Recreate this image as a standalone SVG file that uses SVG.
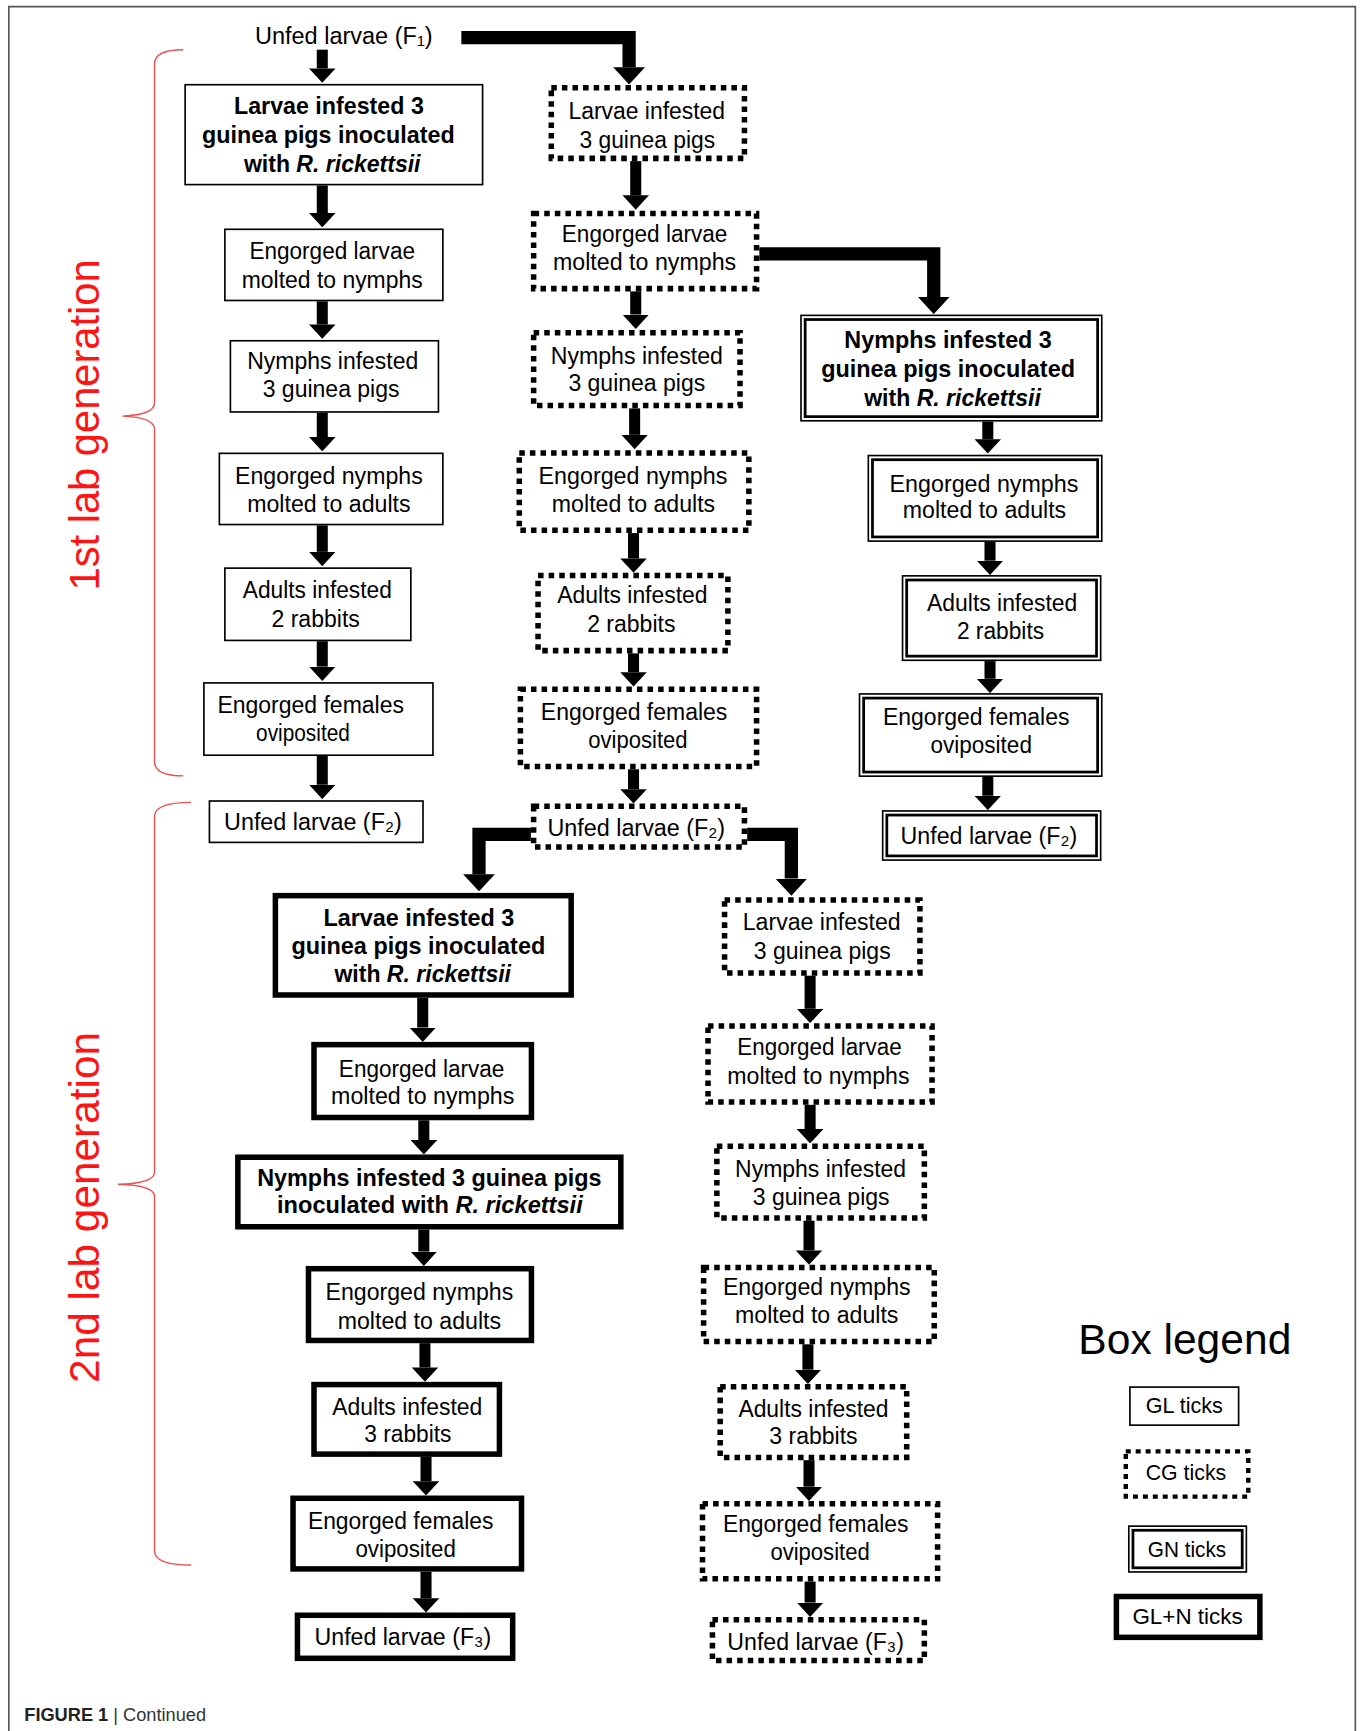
<svg xmlns="http://www.w3.org/2000/svg" width="1362" height="1731" viewBox="0 0 1362 1731">
<style>
.gl{fill:#fff;stroke:#000;stroke-width:1.5}
.cg{fill:#fff;stroke:#000;stroke-width:5;stroke-dasharray:5 4.6}
.gno{fill:#fff;stroke:#000;stroke-width:1.5}
.gni{fill:none;stroke:#000;stroke-width:2.5}
.gln{fill:#fff;stroke:#000;stroke-width:5}
.t{font-family:"Liberation Sans",Arial,sans-serif;font-size:22.5px;text-anchor:middle;dominant-baseline:central;fill:#000}
.b{font-weight:bold;font-size:22px}
.i{font-style:italic}
.conn{stroke:#000;stroke-width:10;fill:none;marker-end:url(#ah)}
.elb{stroke-width:12;stroke-linejoin:miter}
.brace{fill:none;stroke:#f05050;stroke-width:1.3}
.gen{font-family:"Liberation Sans",Arial,sans-serif;font-size:38px;fill:#ff1414;text-anchor:middle;dominant-baseline:central}
.leg{font-family:"Liberation Sans",Arial,sans-serif;font-size:20px;text-anchor:middle;dominant-baseline:central;fill:#000}
.frame{fill:none;stroke:#555;stroke-width:1.5}
.cap{font-family:"Liberation Sans",Arial,sans-serif;font-size:16.5px;fill:#333}
</style>
<defs>
<marker id="ah" markerUnits="strokeWidth" viewBox="0 -1.2 1.3 2.4" markerWidth="1.3" markerHeight="2.4" refX="0" refY="0" orient="auto">
<path d="M0,-1.2 L1.3,0 L0,1.2 Z" fill="#000"/>
</marker>
</defs>
<rect x="0" y="0" width="1362" height="1731" fill="#fff"/>
<g transform="scale(1.1037)">
<path class="frame" d="M8,1580 V6 H1228 V1580"/>

<g id="braces">
<path class="brace" d="M166,45 Q140,45 140,58 V365 Q140,376 111,377 Q140,378 140,389 V690 Q140,703 166,703"/>
<path class="brace" d="M173,727 Q140,727 140,740 V1062 Q140,1072 107,1073 Q140,1074 140,1084 V1405 Q140,1418 173,1418"/>
<text class="gen" transform="translate(77,385) rotate(-90)" textLength="300" lengthAdjust="spacingAndGlyphs">1st lab generation</text>
<text class="gen" transform="translate(77,1094) rotate(-90)" textLength="318" lengthAdjust="spacingAndGlyphs">2nd lab generation</text>
</g>

<g id="connectors">
<path class="conn elb" d="M418,34 H570 V61"/>
<path class="conn elb" d="M688,230 H846 V269"/>
<path class="conn elb" d="M481,756 H434 V792"/>
<path class="conn elb" d="M677,756 H717 V796"/>
<path class="conn" d="M292,45 V62"/>
<path class="conn" d="M292,168 V193"/>
<path class="conn" d="M292,273 V294"/>
<path class="conn" d="M292,374 V396"/>
<path class="conn" d="M292,476 V500"/>
<path class="conn" d="M292,581 V604"/>
<path class="conn" d="M292,685 V711"/>
<path class="conn" d="M576,146 V177"/>
<path class="conn" d="M576,264 V285"/>
<path class="conn" d="M575,370 V394"/>
<path class="conn" d="M574,483 V506"/>
<path class="conn" d="M574,592 V609"/>
<path class="conn" d="M574,697 V715"/>
<path class="conn" d="M895,382 V398"/>
<path class="conn" d="M897,491 V508"/>
<path class="conn" d="M897,599 V615"/>
<path class="conn" d="M895,704 V721"/>
<path class="conn" d="M383,904 V931"/>
<path class="conn" d="M384,1015 V1033"/>
<path class="conn" d="M384,1114 V1134"/>
<path class="conn" d="M385,1217 V1239"/>
<path class="conn" d="M386,1320 V1342"/>
<path class="conn" d="M386,1424 V1448"/>
<path class="conn" d="M734,884 V914"/>
<path class="conn" d="M734,1001 V1023"/>
<path class="conn" d="M733,1106 V1133"/>
<path class="conn" d="M732,1218 V1241"/>
<path class="conn" d="M733,1323 V1347"/>
<path class="conn" d="M734,1433 V1452"/>
</g>

<g id="f1-top">
<text class="t" x="311.5" y="32" textLength="161" lengthAdjust="spacingAndGlyphs">Unfed  larvae  (F₁)</text>
</g>

<g id="gl-larvae-infested">
<rect class="gl" x="167.75" y="76.75" width="269.5" height="90.5"/>
<text class="t b" x="298" y="96" textLength="172" lengthAdjust="spacingAndGlyphs">Larvae infested 3</text>
<text class="t b" x="297.5" y="122" textLength="229" lengthAdjust="spacingAndGlyphs">guinea pigs inoculated</text>
<text class="t b" x="301" y="148" textLength="160" lengthAdjust="spacingAndGlyphs">with <tspan class="i">R. rickettsii</tspan></text>
</g>
<g id="gl-engorged-larvae">
<rect class="gl" x="203.75" y="207.75" width="197.5" height="64.5"/>
<text class="t" x="301" y="227" textLength="150" lengthAdjust="spacingAndGlyphs">Engorged larvae</text>
<text class="t" x="301" y="253" textLength="164" lengthAdjust="spacingAndGlyphs">molted to nymphs</text>
</g>
<g id="gl-nymphs-infested">
<rect class="gl" x="208.75" y="308.75" width="188.5" height="64.5"/>
<text class="t" x="301.5" y="327" textLength="155" lengthAdjust="spacingAndGlyphs">Nymphs infested</text>
<text class="t" x="300" y="352" textLength="124" lengthAdjust="spacingAndGlyphs">3 guinea pigs</text>
</g>
<g id="gl-engorged-nymphs">
<rect class="gl" x="198.75" y="410.75" width="202.5" height="64.5"/>
<text class="t" x="298" y="431" textLength="170" lengthAdjust="spacingAndGlyphs">Engorged nymphs</text>
<text class="t" x="298" y="456" textLength="148" lengthAdjust="spacingAndGlyphs">molted to adults</text>
</g>
<g id="gl-adults-infested">
<rect class="gl" x="203.75" y="514.75" width="168.5" height="65.5"/>
<text class="t" x="287.5" y="534" textLength="135" lengthAdjust="spacingAndGlyphs">Adults infested</text>
<text class="t" x="286" y="560" textLength="80" lengthAdjust="spacingAndGlyphs">2 rabbits</text>
</g>
<g id="gl-engorged-females">
<rect class="gl" x="184.75" y="618.75" width="207.5" height="65.5"/>
<text class="t" x="281.5" y="638" textLength="169" lengthAdjust="spacingAndGlyphs">Engorged females</text>
<text class="t" x="274.5" y="664" textLength="85" lengthAdjust="spacingAndGlyphs">oviposited</text>
</g>
<g id="gl-unfed-f2">
<rect class="gl" x="189.75" y="725.75" width="193.5" height="37.5"/>
<text class="t" x="283.5" y="744" textLength="161" lengthAdjust="spacingAndGlyphs">Unfed  larvae  (F₂)</text>
</g>

<g id="cg-larvae-infested">
<rect class="cg" x="499.5" y="79.5" width="175" height="64"/>
<text class="t" x="586" y="100" textLength="142" lengthAdjust="spacingAndGlyphs">Larvae  infested</text>
<text class="t" x="586.5" y="126" textLength="123" lengthAdjust="spacingAndGlyphs">3 guinea pigs</text>
</g>
<g id="cg-engorged-larvae">
<rect class="cg" x="483.5" y="193.5" width="202" height="68"/>
<text class="t" x="584" y="212" textLength="150" lengthAdjust="spacingAndGlyphs">Engorged larvae</text>
<text class="t" x="584" y="237" textLength="166" lengthAdjust="spacingAndGlyphs">molted to nymphs</text>
</g>
<g id="cg-nymphs-infested">
<rect class="cg" x="483.5" y="301.5" width="187" height="66"/>
<text class="t" x="577" y="322" textLength="156" lengthAdjust="spacingAndGlyphs">Nymphs infested</text>
<text class="t" x="577" y="347" textLength="124" lengthAdjust="spacingAndGlyphs">3 guinea pigs</text>
</g>
<g id="cg-engorged-nymphs">
<rect class="cg" x="470.5" y="410.5" width="208" height="70"/>
<text class="t" x="573.5" y="431" textLength="171" lengthAdjust="spacingAndGlyphs">Engorged nymphs</text>
<text class="t" x="574" y="456" textLength="148" lengthAdjust="spacingAndGlyphs">molted to adults</text>
</g>
<g id="cg-adults-infested">
<rect class="cg" x="487.5" y="521.5" width="172" height="68"/>
<text class="t" x="573" y="539" textLength="136" lengthAdjust="spacingAndGlyphs">Adults infested</text>
<text class="t" x="572" y="565" textLength="80" lengthAdjust="spacingAndGlyphs">2 rabbits</text>
</g>
<g id="cg-engorged-females">
<rect class="cg" x="471.5" y="624.5" width="214" height="70"/>
<text class="t" x="574.5" y="645" textLength="169" lengthAdjust="spacingAndGlyphs">Engorged females</text>
<text class="t" x="578" y="670" textLength="90" lengthAdjust="spacingAndGlyphs">oviposited</text>
</g>
<g id="cg-unfed-f2">
<rect class="cg" x="483.5" y="730.5" width="191" height="37"/>
<text class="t" x="576.5" y="750" textLength="161" lengthAdjust="spacingAndGlyphs">Unfed  larvae  (F₂)</text>
</g>

<g id="gn-nymphs-infested">
<rect class="gno" x="725.75" y="285.75" width="272.5" height="95.5"/>
<rect class="gni" x="729.5" y="289.5" width="265" height="88"/>
<text class="t b" x="859" y="308" textLength="188" lengthAdjust="spacingAndGlyphs">Nymphs  infested 3</text>
<text class="t b" x="859" y="334" textLength="230" lengthAdjust="spacingAndGlyphs">guinea pigs inoculated</text>
<text class="t b" x="863" y="360" textLength="160" lengthAdjust="spacingAndGlyphs">with <tspan class="i">R. rickettsii</tspan></text>
</g>
<g id="gn-engorged-nymphs">
<rect class="gno" x="786.75" y="412.75" width="211.5" height="77.5"/>
<rect class="gni" x="790.5" y="416.5" width="204" height="70"/>
<text class="t" x="891.5" y="438" textLength="171" lengthAdjust="spacingAndGlyphs">Engorged  nymphs</text>
<text class="t" x="892" y="462" textLength="148" lengthAdjust="spacingAndGlyphs">molted to adults</text>
</g>
<g id="gn-adults-infested">
<rect class="gno" x="817.75" y="521.75" width="179.5" height="76.5"/>
<rect class="gni" x="821.5" y="525.5" width="172" height="69"/>
<text class="t" x="908" y="546" textLength="136" lengthAdjust="spacingAndGlyphs">Adults infested</text>
<text class="t" x="906.5" y="571" textLength="79" lengthAdjust="spacingAndGlyphs">2 rabbits</text>
</g>
<g id="gn-engorged-females">
<rect class="gno" x="778.75" y="628.75" width="219.5" height="74.5"/>
<rect class="gni" x="782.5" y="632.5" width="212" height="67"/>
<text class="t" x="884.5" y="649" textLength="169" lengthAdjust="spacingAndGlyphs">Engorged females</text>
<text class="t" x="889" y="675" textLength="92" lengthAdjust="spacingAndGlyphs">oviposited</text>
</g>
<g id="gn-unfed-f2">
<rect class="gno" x="799.75" y="734.75" width="197.5" height="44.5"/>
<rect class="gni" x="803.5" y="738.5" width="190" height="37"/>
<text class="t" x="896" y="757" textLength="160" lengthAdjust="spacingAndGlyphs">Unfed  larvae  (F₂)</text>
</g>

<g id="gln-larvae-infested">
<rect class="gln" x="249.5" y="811.5" width="268" height="90"/>
<text class="t b" x="379.5" y="831" textLength="173" lengthAdjust="spacingAndGlyphs">Larvae infested 3</text>
<text class="t b" x="379" y="857" textLength="230" lengthAdjust="spacingAndGlyphs">guinea pigs inoculated</text>
<text class="t b" x="383" y="882" textLength="160" lengthAdjust="spacingAndGlyphs">with <tspan class="i">R. rickettsii</tspan></text>
</g>
<g id="gln-engorged-larvae">
<rect class="gln" x="284.5" y="946.5" width="197" height="66"/>
<text class="t" x="382" y="968" textLength="150" lengthAdjust="spacingAndGlyphs">Engorged larvae</text>
<text class="t" x="383" y="993" textLength="166" lengthAdjust="spacingAndGlyphs">molted to nymphs</text>
</g>
<g id="gln-nymphs-infested">
<rect class="gln" x="215.5" y="1048.5" width="347" height="63"/>
<text class="t b" x="389" y="1067" textLength="312" lengthAdjust="spacingAndGlyphs">Nymphs  infested 3 guinea pigs</text>
<text class="t b" x="389.5" y="1091" textLength="277" lengthAdjust="spacingAndGlyphs">inoculated  with <tspan class="i">R. rickettsii</tspan></text>
</g>
<g id="gln-engorged-nymphs">
<rect class="gln" x="279.5" y="1149.5" width="202" height="65"/>
<text class="t" x="380" y="1170" textLength="170" lengthAdjust="spacingAndGlyphs">Engorged  nymphs</text>
<text class="t" x="380" y="1196" textLength="148" lengthAdjust="spacingAndGlyphs">molted to adults</text>
</g>
<g id="gln-adults-infested">
<rect class="gln" x="284.5" y="1254.5" width="168" height="63"/>
<text class="t" x="369" y="1274" textLength="136" lengthAdjust="spacingAndGlyphs">Adults infested</text>
<text class="t" x="369.5" y="1299" textLength="79" lengthAdjust="spacingAndGlyphs">3 rabbits</text>
</g>
<g id="gln-engorged-females">
<rect class="gln" x="265.5" y="1357.5" width="207" height="64"/>
<text class="t" x="363" y="1378" textLength="168" lengthAdjust="spacingAndGlyphs">Engorged females</text>
<text class="t" x="367.5" y="1403" textLength="91" lengthAdjust="spacingAndGlyphs">oviposited</text>
</g>
<g id="gln-unfed-f3">
<rect class="gln" x="269.5" y="1463.5" width="195" height="39"/>
<text class="t" x="365" y="1483" textLength="160" lengthAdjust="spacingAndGlyphs">Unfed  larvae  (F₃)</text>
</g>

<g id="cg2-larvae-infested">
<rect class="cg" x="656.5" y="815.5" width="177" height="66"/>
<text class="t" x="744.5" y="835" textLength="143" lengthAdjust="spacingAndGlyphs">Larvae  infested</text>
<text class="t" x="745" y="861" textLength="124" lengthAdjust="spacingAndGlyphs">3 guinea pigs</text>
</g>
<g id="cg2-engorged-larvae">
<rect class="cg" x="641.5" y="929.5" width="203" height="69"/>
<text class="t" x="742.5" y="948" textLength="149" lengthAdjust="spacingAndGlyphs">Engorged larvae</text>
<text class="t" x="741.5" y="974" textLength="165" lengthAdjust="spacingAndGlyphs">molted to nymphs</text>
</g>
<g id="cg2-nymphs-infested">
<rect class="cg" x="649.5" y="1038.5" width="188" height="65"/>
<text class="t" x="743.5" y="1059" textLength="155" lengthAdjust="spacingAndGlyphs">Nymphs infested</text>
<text class="t" x="744" y="1084" textLength="124" lengthAdjust="spacingAndGlyphs">3 guinea pigs</text>
</g>
<g id="cg2-engorged-nymphs">
<rect class="cg" x="637.5" y="1148.5" width="209" height="67"/>
<text class="t" x="740" y="1166" textLength="170" lengthAdjust="spacingAndGlyphs">Engorged nymphs</text>
<text class="t" x="740" y="1191" textLength="148" lengthAdjust="spacingAndGlyphs">molted to adults</text>
</g>
<g id="cg2-adults-infested">
<rect class="cg" x="652.5" y="1256.5" width="169" height="64"/>
<text class="t" x="737" y="1276" textLength="136" lengthAdjust="spacingAndGlyphs">Adults infested</text>
<text class="t" x="737" y="1301" textLength="80" lengthAdjust="spacingAndGlyphs">3 rabbits</text>
</g>
<g id="cg2-engorged-females">
<rect class="cg" x="636.5" y="1362.5" width="213" height="68"/>
<text class="t" x="739" y="1380" textLength="168" lengthAdjust="spacingAndGlyphs">Engorged females</text>
<text class="t" x="743" y="1406" textLength="90" lengthAdjust="spacingAndGlyphs">oviposited</text>
</g>
<g id="cg2-unfed-f3">
<rect class="cg" x="645.5" y="1467.5" width="192" height="37"/>
<text class="t" x="739" y="1487" textLength="160" lengthAdjust="spacingAndGlyphs">Unfed  larvae  (F₃)</text>
</g>

<g id="legend">
<text class="leg" x="1073.5" y="1214" textLength="193" lengthAdjust="spacingAndGlyphs" style="font-size:38px">Box legend</text>
<g id="legend-gl">
<rect class="gl" x="1023.75" y="1256.75" width="98.5" height="34.5"/>
<text class="leg" x="1073" y="1273" textLength="70" lengthAdjust="spacingAndGlyphs">GL ticks</text>
</g>
<g id="legend-cg">
<rect class="cg" x="1020" y="1315" width="111" height="41" style="stroke-width:4;stroke-dasharray:4.5 4.5"/>
<text class="leg" x="1074.5" y="1334" textLength="73" lengthAdjust="spacingAndGlyphs">CG ticks</text>
</g>
<g id="legend-gn">
<rect class="gno" x="1022.75" y="1382.75" width="106.5" height="41.5"/>
<rect class="gni" x="1026.5" y="1386.5" width="99" height="34"/>
<text class="leg" x="1075.5" y="1404" textLength="71" lengthAdjust="spacingAndGlyphs">GN ticks</text>
</g>
<g id="legend-gln">
<rect class="gln" x="1011.5" y="1446.5" width="130" height="37"/>
<text class="leg" x="1076" y="1465" textLength="100" lengthAdjust="spacingAndGlyphs">GL+N  ticks</text>
</g>
</g>

<g id="caption">
<text class="cap" x="22" y="1559"><tspan font-weight="bold" fill="#222">FIGURE 1</tspan> | Continued</text>
</g>
</g>
</svg>
